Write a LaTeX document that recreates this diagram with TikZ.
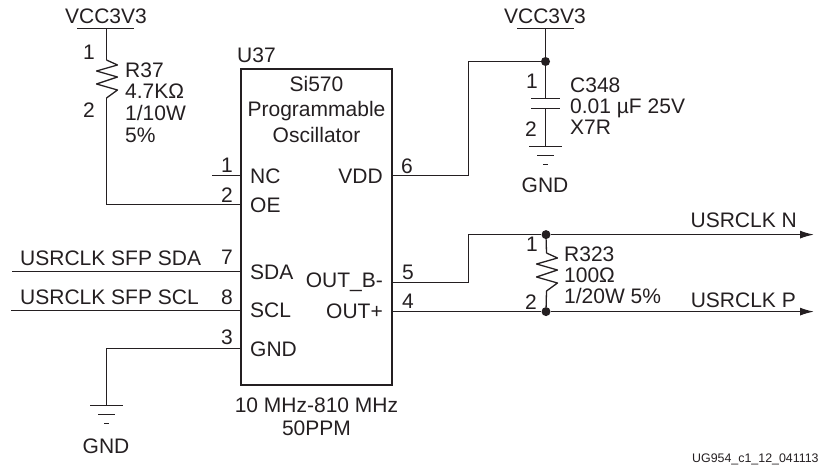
\documentclass[tikz,border=0pt]{standalone}
\usepackage{xcolor}
\usepackage{fontspec}
\setmainfont{Liberation Sans}
\usepackage{tikz}
\usetikzlibrary{arrows.meta}
\usetikzlibrary{positioning}
\definecolor{inkblack}{rgb}{0.14, 0.12, 0.13}
\tikzset{%
  chipbox/.style={rectangle,draw=inkblack,line width=2.5pt,minimum width=151pt,minimum height=316pt,inner sep=0pt},
  wire/.style={draw=inkblack,line width=1.3pt},
  sigout/.style={wire,-{Latex[length=14pt,width=8pt]}},
  txt/.style={inner sep=0pt,text=inkblack,font=\fontsize{21}{24}\selectfont},
  txtl/.style={txt,anchor=west},
  txtr/.style={txt,anchor=east},
  dotj/.style={circle,fill=inkblack,inner sep=0pt,minimum size=9pt}
}
\newcommand\zigres[1]{
    \draw[wire,line join=round] (#1) -- ++(11,5) -- ++(-21,6) -- ++(21,6) -- ++(-21,7) -- ++(21,6) -- ++(-11,8);
}
\newcommand\gndbars[1]{
    \draw[wire] ([xshift=-16.5pt]#1) -- ([xshift=16.5pt]#1);
    \draw[wire] ([shift={(-8.5,9)}]#1) -- ([shift={(8.5,9)}]#1);
    \draw[wire] ([shift={(-2.5,18)}]#1) -- ([shift={(2.5,18)}]#1);
}
\begin{document}
\begin{tikzpicture}[x=1pt,y=-1pt]
    \useasboundingbox (0,0) rectangle (827,468);
    % chip
    \node[chipbox] (chip) at (316.5,227) {};
    \node[txtl] (chipref) at (237,55) {U37};
    \node[txt,align=center,font=\fontsize{21}{25.5}\selectfont,below=8pt of chip.north] (chipname) {Si570\\Programmable\\Oscillator};
    \node[txt,align=center,font=\fontsize{21}{23}\selectfont,below=11pt of chip.south] (chipfreq) {10 MHz-810 MHz\\50PPM};
    % pin names
    \node[txtl] (pinnc) at (250,176) {NC};
    \node[txtl] (pinoe) at (250,205) {OE};
    \node[txtl] (pinsda) at (250,272) {SDA};
    \node[txtl] (pinscl) at (250,310) {SCL};
    \node[txtl] (pingnd) at (250,349) {GND};
    \node[txtr] (pinvdd) at (383,176) {VDD};
    \node[txtr] (pinoutb) at (383,282) {OUT\_B-};
    \node[txtr] (pinoutp) at (383,311) {OUT+};
    % pin ends on the chip
    \coordinate (cnc) at (241,175.6);
    \coordinate (coe) at (241,204.6);
    \coordinate (csda) at (241,271.6);
    \coordinate (cscl) at (241,310.5);
    \coordinate (cgnd) at (241,348.5);
    \coordinate (cvdd) at (392,175.6);
    \coordinate (coutb) at (392,282.5);
    \coordinate (coutp) at (392,311.6);
    % free ends
    \coordinate (ncfree) at (212,175.6);
    \coordinate (sdafree) at (12,271.6);
    \coordinate (sclfree) at (11,310.5);
    \coordinate (gndtopa) at (106.5,405.7);
    \coordinate (gndtopb) at (545.5,146.5);
    % R37
    \node[txt] (vccl) at (106,16) {VCC3V3};
    \coordinate (vccla) at (77,28.5);
    \coordinate (vcclb) at (134,28.5);
    \coordinate (vcclm) at (106.5,28.5);
    \coordinate (rtop) at (106.5,60);
    \coordinate (rbot) at (106.5,98);
    \draw[wire] (vccla) -- (vcclb);
    \draw[wire] (vcclm) -- (rtop);
    \zigres{rtop}
    \draw[wire] (rbot) |- (coe);
    \node[txt] (rpa) at (89,52) {1};
    \node[txt] (rpb) at (89,110) {2};
    \node[txtl,align=left,font=\fontsize{21}{21.7}\selectfont] (rval) at (125,102.5) {R37\\4.7KΩ\\1/10W\\5\%};
    % left pins
    \draw[wire] (ncfree) -- (cnc);
    \draw[wire] (sdafree) -- (csda);
    \draw[wire] (sclfree) -- (cscl);
    \draw[wire] (cgnd) -| (gndtopa);
    \gndbars{gndtopa}
    \node[txt] (gnda) at (106,446) {GND};
    \node[txt] (pina) at (227,165) {1};
    \node[txt] (pinb) at (227,195) {2};
    \node[txt] (pinc) at (227,337) {3};
    \node[txt] (ping) at (227,257) {7};
    \node[txt] (pinh) at (227,297) {8};
    \node[txtl] (sdalabel) at (20,258) {USRCLK SFP SDA};
    \node[txtl] (scllabel) at (20,297) {USRCLK SFP SCL};
    % C348
    \node[txt] (vccr) at (545,16) {VCC3V3};
    \coordinate (vccra) at (517,28.5);
    \coordinate (vccrb) at (574,28.5);
    \coordinate (vccrm) at (545.5,28.5);
    \node[dotj] (vdddot) at (545.5,61.5) {};
    \coordinate (capa) at (545.5,98.5);
    \coordinate (capb) at (545.5,108.5);
    \draw[wire] (vccra) -- (vccrb);
    \draw[wire] (vccrm) -- (vdddot);
    \draw[wire] (vdddot) -- (capa);
    \draw[wire] ([xshift=-14.5pt]capa) -- ([xshift=14.5pt]capa);
    \draw[wire] ([xshift=-14.5pt]capb) -- ([xshift=14.5pt]capb);
    \draw[wire] (capb) -- (gndtopb);
    \gndbars{gndtopb}
    \node[txt] (gndb) at (545,185) {GND};
    \node[txt] (capc) at (532,81) {1};
    \node[txt] (capd) at (531,129) {2};
    \node[txtl,align=left,font=\fontsize{21}{21}\selectfont] (cval) at (570,106) {C348\\0.01 µF 25V\\X7R};
    \draw[wire] (cvdd) -- ++(76.5,0) |- (vdddot);
    \node[txt] (pinf) at (407,166) {6};
    % R323
    \node[dotj] (ndot) at (546,234.6) {};
    \node[dotj] (pdot) at (546,311.6) {};
    \coordinate (nend) at (814,234.6);
    \coordinate (pend) at (814,311.6);
    \coordinate (rrtop) at (546.5,253);
    \coordinate (rrbot) at (546.5,291);
    \draw[wire] (coutb) -- ++(76.5,0) |- (ndot);
    \draw[wire] (coutp) -- (pdot);
    \draw[sigout] (ndot) -- (nend);
    \draw[sigout] (pdot) -- (pend);
    \draw[wire] (ndot) -- (rrtop);
    \zigres{rrtop}
    \draw[wire] (rrbot) -- (pdot);
    \node[txt] (pine) at (408,272) {5};
    \node[txt] (pind) at (408,301) {4};
    \node[txt] (rrpa) at (532,244) {1};
    \node[txt] (rrpb) at (531,302) {2};
    \node[txtl,align=left,font=\fontsize{21}{21}\selectfont] (rrval) at (564,275) {R323\\100Ω\\1/20W 5\%};
    \node[txtr] (nlabel) at (797,220) {USRCLK N};
    \node[txtr] (plabel) at (796,300) {USRCLK P};
    \node[txtl,font=\fontsize{12.4}{15}\selectfont] (figid) at (692,459) {UG954\_c1\_12\_041113};
\end{tikzpicture}
\end{document}
